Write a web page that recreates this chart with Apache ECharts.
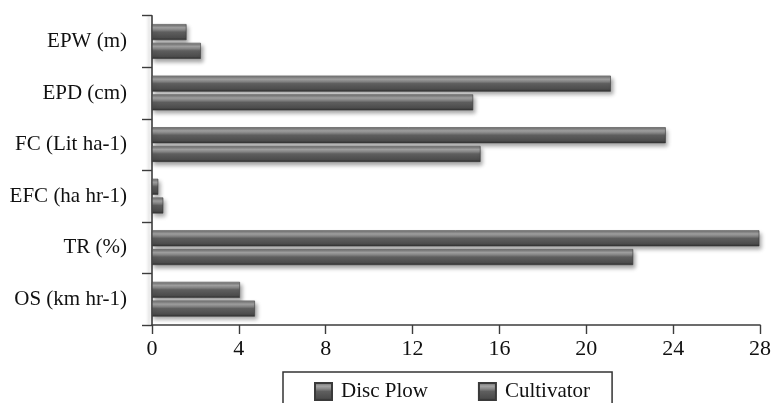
<!DOCTYPE html>
<html>
<head>
<meta charset="utf-8">
<script src="https://cdn.jsdelivr.net/npm/echarts@6/dist/echarts.min.js"></script>
<style>
html,body{margin:0;padding:0;background:#fff;}
#chart{width:774px;height:403px;}
</style>
</head>
<body>
<div id="chart"></div>
<script>
// Categories listed bottom to top
const categories = ['OS (km hr-1)', 'TR (%)', 'EFC (ha hr-1)', 'FC (Lit ha-1)', 'EPD (cm)', 'EPW (m)'];
const discPlow = [4.05, 27.97, 0.29, 23.66, 21.13, 1.59];
const cultivator = [4.74, 22.16, 0.52, 15.13, 14.79, 2.25];
const seriesNames = ['Disc Plow', 'Cultivator'];
const xTicks = [0, 4, 8, 12, 16, 20, 24, 28];

const font = "'Liberation Serif', 'Times New Roman', serif";
const barFill = {
  type: 'linear', x: 0, y: 0, x2: 0, y2: 1,
  colorStops: [
    {offset: 0, color: '#b8b8b8'},
    {offset: 0.08, color: '#7c7c7c'},
    {offset: 0.22, color: '#a4a4a4'},
    {offset: 0.35, color: '#8a8a8a'},
    {offset: 0.5, color: '#5e5e5e'},
    {offset: 0.85, color: '#4c4c4c'},
    {offset: 1, color: '#2e2e2e'}
  ]
};
const barStyle = {
  color: barFill,
  borderColor: '#3a3a3a',
  borderWidth: 0.6,
  shadowColor: 'rgba(0,0,0,0.35)',
  shadowBlur: 4,
  shadowOffsetX: 2,
  shadowOffsetY: 3
};

const chart = echarts.init(document.getElementById('chart'), null, {renderer: 'canvas'});
chart.setOption({
  animation: false,
  backgroundColor: '#fff',
  grid: {left: 152, right: 12.3, top: 15.7, bottom: 78, containLabel: false},
  xAxis: {
    type: 'value',
    min: xTicks[0],
    max: xTicks[xTicks.length - 1],
    interval: 4,
    axisLine: {show: true, lineStyle: {color: '#3c3c3c', width: 1.6}},
    axisTick: {show: true, length: 9, lineStyle: {color: '#3c3c3c', width: 1.4}},
    splitLine: {show: false},
    axisLabel: {fontFamily: font, fontSize: 22, color: '#111', margin: 13}
  },
  yAxis: {
    type: 'category',
    data: categories,
    axisLine: {show: true, lineStyle: {color: '#3c3c3c', width: 1.6, shadowColor: 'rgba(0,0,0,0.18)', shadowBlur: 3, shadowOffsetX: -3}},
    axisTick: {show: true, length: 10, lineStyle: {color: '#3c3c3c', width: 1.4}},
    axisLabel: {fontFamily: font, fontSize: 21, color: '#111', margin: 25}
  },
  legend: {
    data: seriesNames,
    left: 283,
    top: 372,
    orient: 'horizontal',
    padding: [9, 22, 30, 31],
    itemWidth: 17,
    itemHeight: 17,
    itemGap: 50,
    borderColor: '#333',
    borderWidth: 1.5,
    icon: 'rect',
    textStyle: {fontFamily: font, fontSize: 21, color: '#111', padding: [0, 0, 0, 4]}
  },
  series: [
    {
      name: seriesNames[0], type: 'bar', data: discPlow,
      barWidth: 16, barGap: '17%', itemStyle: barStyle
    },
    {
      name: seriesNames[1], type: 'bar', data: cultivator,
      barWidth: 16, barGap: '17%', itemStyle: barStyle
    }
  ]
});
</script>
</body>
</html>
